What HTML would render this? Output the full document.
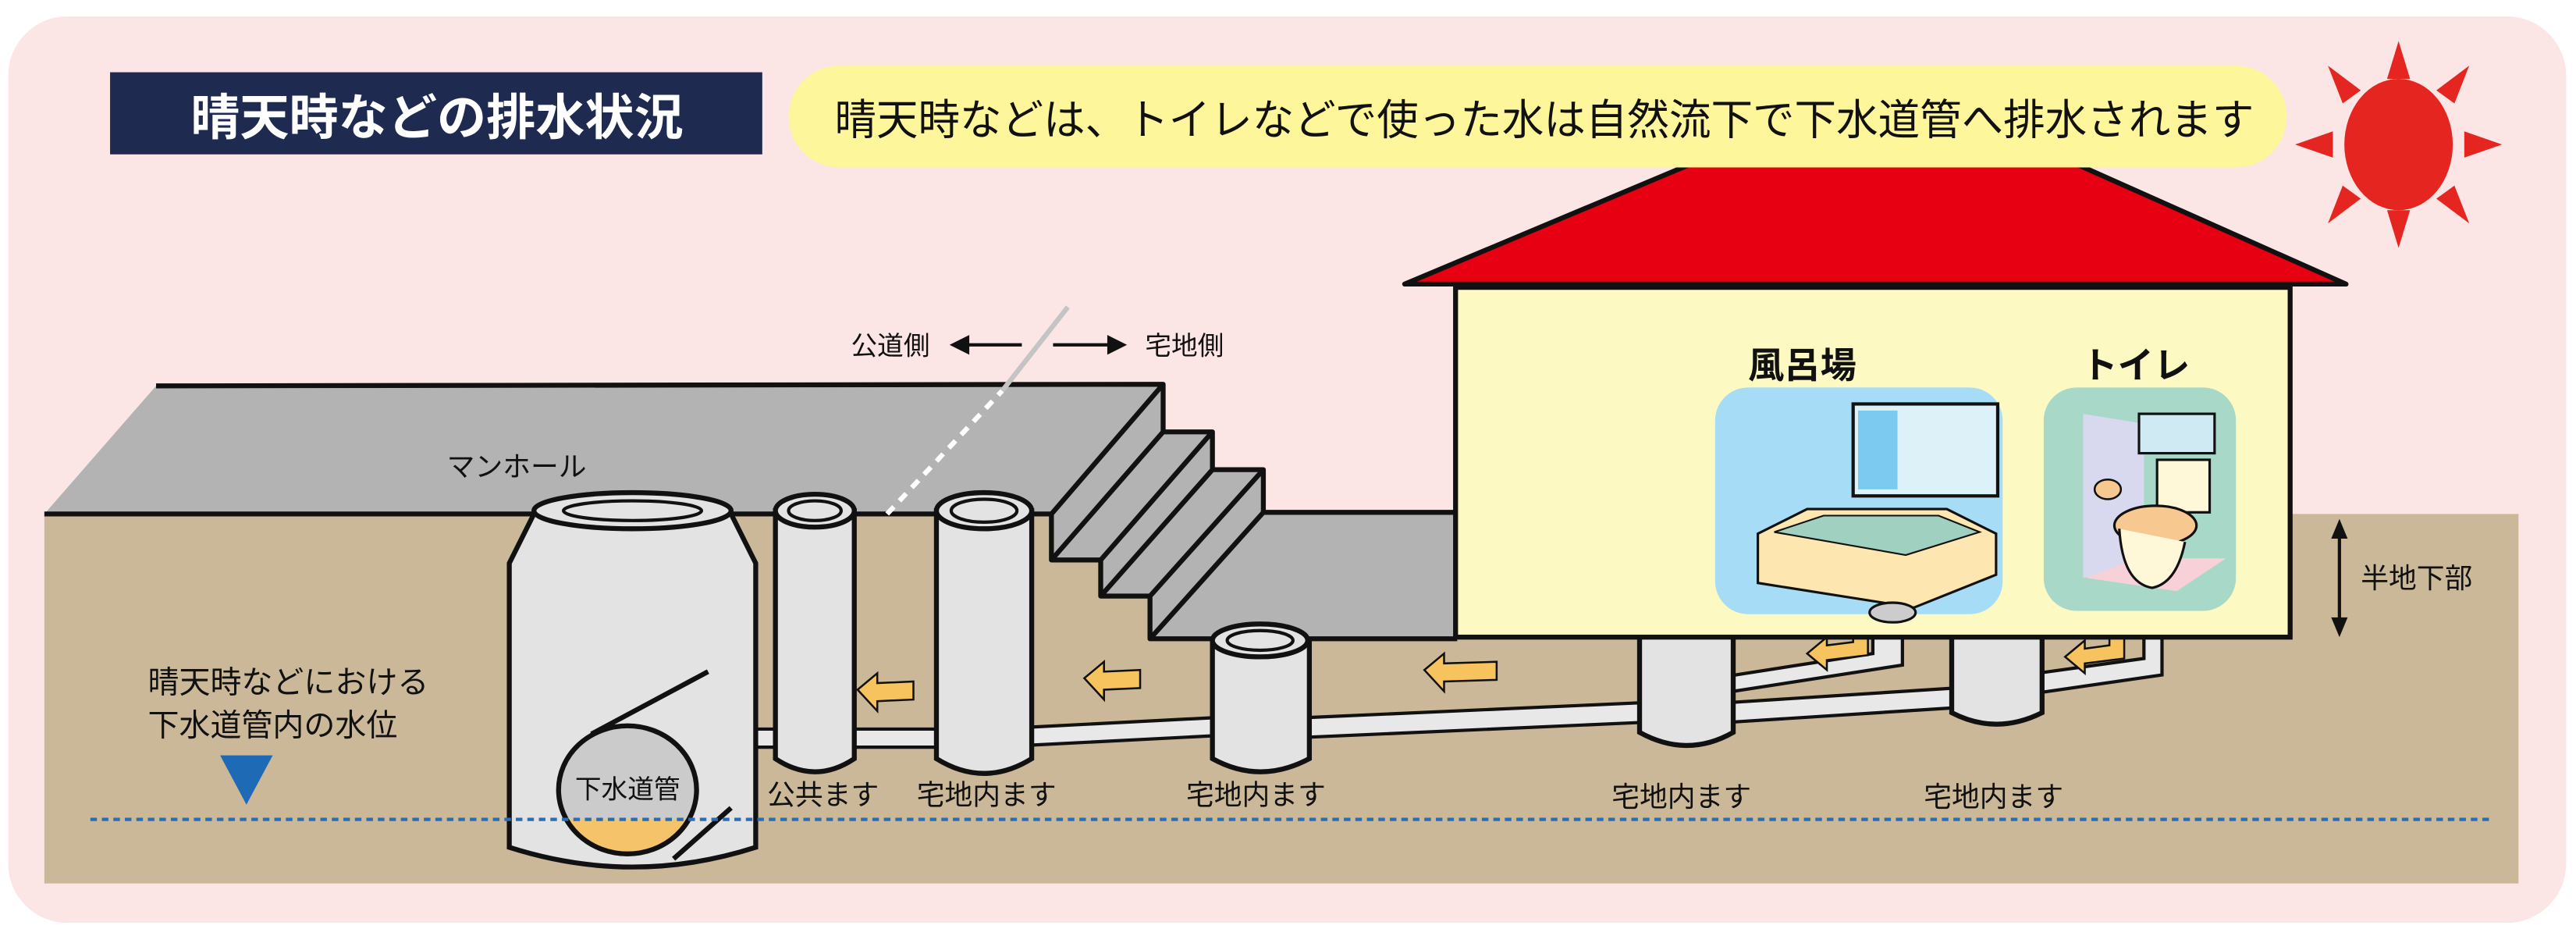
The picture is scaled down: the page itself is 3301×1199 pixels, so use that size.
<!DOCTYPE html>
<html><head><meta charset="utf-8"><style>
html,body{margin:0;padding:0;background:#fff;}
svg{display:block;}
text{font-family:"Liberation Sans","Noto Sans CJK JP",sans-serif;}
</style></head><body>
<svg width="3301" height="1199" viewBox="0 0 1568 570" preserveAspectRatio="none" xmlns="http://www.w3.org/2000/svg">
<rect x="0" y="0" width="1568" height="570" fill="#fff"/>
<rect x="5" y="10" width="1557" height="552" rx="36" fill="#fce5e5"/>
<!-- ground -->
<rect x="27" y="313" width="1506" height="225" fill="#cbb898"/>
<!-- road + stairs -->
<polygon points="27,313 95,235 708,234 708,263 738,263 738,286 769,286 769,312 887,312 887,389 700,389 700,363 670,363 670,341 640,341 640,313" fill="#b3b3b3"/>
<g fill="none" stroke="#111" stroke-width="3" stroke-linejoin="round">
<polyline points="27,313 640,313"/>
<polyline points="95,235 708,234 708,263 738,263 738,286 769,286 769,312 887,312"/>
<polyline points="640,313 640,341 670,341 670,363 700,363 700,389 887,389"/>
<line x1="708" y1="234" x2="640" y2="313"/>
<line x1="708" y1="263" x2="640" y2="341"/>
<line x1="738" y1="263" x2="670" y2="341"/>
<line x1="738" y1="286" x2="670" y2="363"/>
<line x1="769" y1="286" x2="700" y2="363"/>
<line x1="769" y1="312" x2="700" y2="389"/>
</g>
<!-- boundary line -->
<line x1="540" y1="313" x2="610" y2="238" stroke="#fff" stroke-width="3" stroke-dasharray="6,5"/>
<line x1="610" y1="238" x2="650" y2="187" stroke="#c4c4c4" stroke-width="3"/>
<text x="518" y="216" font-size="16" fill="#111">公道側</text>
<line x1="584" y1="210" x2="622" y2="210" stroke="#111" stroke-width="2"/>
<polygon points="578,210 590,204 590,216" fill="#111"/>
<line x1="641" y1="210" x2="680" y2="210" stroke="#111" stroke-width="2"/>
<polygon points="686,210 674,204 674,216" fill="#111"/>
<text x="697" y="216" font-size="16" fill="#111">宅地側</text>
<text x="272" y="290" font-size="17" fill="#111">マンホール</text>
<!-- pipes main -->
<g stroke="#111" stroke-width="2" fill="#e8e8e8">
<polygon points="420,444 570,444 570,455 420,455"/>
<polygon points="623,443 740,437 740,448 623,454"/>
<polygon points="795,437 998,428 998,440 795,449"/>
<polygon points="1050,428 1190,419 1190,431 1050,440"/>
<polygon points="1050,412 1140,398 1140,380 1158,380 1158,405 1055,421"/>
<polygon points="1240,410 1305,401 1305,372 1316,372 1316,411 1240,422"/>
</g>
<!-- manhole -->
<path d="M325,313 L310,343 L310,516 Q385,540 460,516 L460,343 L445,313 Z" fill="#e3e3e3" stroke="#111" stroke-width="3"/>
<ellipse cx="385" cy="311" rx="60" ry="11" fill="#e3e3e3" stroke="#111" stroke-width="3"/>
<ellipse cx="385" cy="311" rx="42" ry="6" fill="#e3e3e3" stroke="#111" stroke-width="2"/>
<clipPath id="c1"><ellipse cx="382" cy="481" rx="42" ry="39"/></clipPath>
<ellipse cx="382" cy="481" rx="42" ry="39" fill="#cbcbcb"/>
<rect x="330" y="499" width="110" height="30" fill="#f5c46a" clip-path="url(#c1)"/>
<ellipse cx="382" cy="481" rx="42" ry="39" fill="none" stroke="#111" stroke-width="3"/>
<line x1="360" y1="447" x2="431" y2="409" stroke="#111" stroke-width="3"/>
<line x1="410" y1="523" x2="445" y2="492" stroke="#111" stroke-width="3"/>
<text x="382" y="486" font-size="16" fill="#111" text-anchor="middle">下水道管</text>
<!-- columns -->
<g stroke="#111" stroke-width="3" fill="#e3e3e3">
<path d="M472,311 L472,462 Q496,478 520,462 L520,311 Z"/>
<ellipse cx="496" cy="311" rx="24" ry="10"/>
<ellipse cx="496" cy="311" rx="16" ry="6" stroke-width="2"/>
<path d="M570,311 L570,462 Q599,480 628,462 L628,311 Z"/>
<ellipse cx="599" cy="311" rx="29" ry="11"/>
<ellipse cx="599" cy="311" rx="20" ry="7" stroke-width="2"/>
<path d="M738,390 L738,462 Q767,478 797,462 L797,390 Z"/>
<ellipse cx="767" cy="390" rx="29" ry="10"/>
<ellipse cx="767" cy="390" rx="20" ry="6" stroke-width="2"/>
<path d="M998,386 L998,446 Q1027,462 1055,446 L1055,386 Z"/>
<path d="M1188,386 L1188,434 Q1215,448 1243,434 L1243,386 Z"/>
</g>
<!-- arrows -->
<g fill="#f7c35e" stroke="#111" stroke-width="1.2">
<polygon points="522,420 534,410 534,416 556,415 556,426 534,427 534,433"/>
<polygon points="660,413 672,403 672,409 694,408 694,419 672,420 672,426"/>
<polygon points="867,408 879,398 879,404 911,403 911,414 879,415 879,421"/>
<polygon points="1100,398 1112,388 1112,393 1128,391 1128,370 1137,370 1137,399 1112,402 1112,408"/>
<polygon points="1257,400 1269,390 1269,395 1284,393 1284,372 1293,372 1293,401 1269,404 1269,410"/>
</g>
<!-- labels -->
<g font-size="17" fill="#111">
<text x="467" y="490">公共ます</text>
<text x="558" y="490">宅地内ます</text>
<text x="722" y="490">宅地内ます</text>
<text x="981" y="491">宅地内ます</text>
<text x="1171" y="491">宅地内ます</text>
</g>
<line x1="55" y1="499" x2="1515" y2="499" stroke="#2a6db5" stroke-width="2" stroke-dasharray="4,3"/>
<polygon points="134,460 166,460 150,490" fill="#1f6ab5"/>
<text x="90" y="422" font-size="19" fill="#111">晴天時などにおける</text>
<text x="90" y="448" font-size="19" fill="#111">下水道管内の水位</text>
<!-- house -->
<polygon points="855,173 1029,100 1264,100 1428,173" fill="#e60012" stroke="#111" stroke-width="3" stroke-linejoin="round"/>
<rect x="886" y="175" width="508" height="213" fill="#fdf9c2" stroke="#111" stroke-width="3"/>
<text x="1097" y="230" font-size="22" fill="#111" font-weight="bold" text-anchor="middle">風呂場</text>
<text x="1300" y="230" font-size="22" fill="#111" font-weight="bold" text-anchor="middle">トイレ</text>
<rect x="1044" y="236" width="175" height="138" rx="20" fill="#a6dcf5"/>
<rect x="1128" y="246" width="88" height="56" fill="#ddf2f8" stroke="#111" stroke-width="2"/>
<rect x="1131" y="250" width="24" height="48" fill="#7ccaf0"/>
<polygon points="1070,325 1100,310 1185,310 1215,325 1215,350 1165,370 1070,355" fill="#fde6b0" stroke="#111" stroke-width="1.5"/>
<polygon points="1080,324 1110,314 1180,314 1205,324 1160,338" fill="#9fd0c0" stroke="#111" stroke-width="1"/>
<ellipse cx="1152" cy="373" rx="14" ry="6" fill="#ccc" stroke="#111" stroke-width="1.5"/>
<rect x="1244" y="236" width="117" height="136" rx="20" fill="#a8d8c8"/>
<polygon points="1268,252 1305,258 1305,345 1268,352" fill="#d8d8ee"/>
<polygon points="1270,352 1300,340 1355,340 1325,360" fill="#f7d0d8"/>
<rect x="1302" y="252" width="46" height="24" fill="#cfeaf2" stroke="#111" stroke-width="1.5"/>
<rect x="1313" y="280" width="32" height="32" fill="#fff8d8" stroke="#111" stroke-width="1.5"/>
<ellipse cx="1312" cy="320" rx="25" ry="12" fill="#f7c890" stroke="#111" stroke-width="1.5"/>
<path d="M1290,322 Q1292,355 1310,358 Q1325,355 1330,330" fill="#fff8d8" stroke="#111" stroke-width="1.5"/>
<ellipse cx="1283" cy="298" rx="8" ry="6" fill="#f7c890" stroke="#111" stroke-width="1.2"/>
<!-- semi-basement -->
<line x1="1424" y1="322" x2="1424" y2="382" stroke="#111" stroke-width="2"/>
<polygon points="1424,316 1419,328 1429,328" fill="#111"/>
<polygon points="1424,388 1419,376 1429,376" fill="#111"/>
<text x="1437" y="358" font-size="17" fill="#111">半地下部</text>
<!-- title -->
<rect x="67" y="44" width="397" height="50" fill="#1e2a50"/>
<text x="266" y="82" font-size="30" font-weight="bold" fill="#fff" text-anchor="middle">晴天時などの排水状況</text>
<rect x="480" y="40" width="912" height="62" rx="31" fill="#fef69a"/>
<text x="508" y="82" font-size="26" fill="#111" textLength="864" lengthAdjust="spacingAndGlyphs">晴天時などは、トイレなどで使った水は自然流下で下水道管へ排水されます</text>
<!-- sun -->
<g fill="#e52520">
<ellipse cx="1460" cy="88" rx="33" ry="40"/>
<polygon points="1460,25 1453,48 1467,48"/>
<polygon points="1460,151 1453,128 1467,128"/>
<polygon points="1397,88 1420,80 1420,96"/>
<polygon points="1523,88 1500,80 1500,96"/>
<polygon points="1417,40 1426,63 1437,55"/>
<polygon points="1503,40 1494,63 1483,55"/>
<polygon points="1417,136 1426,113 1437,121"/>
<polygon points="1503,136 1494,113 1483,121"/>
</g>
</svg>
</body></html>
